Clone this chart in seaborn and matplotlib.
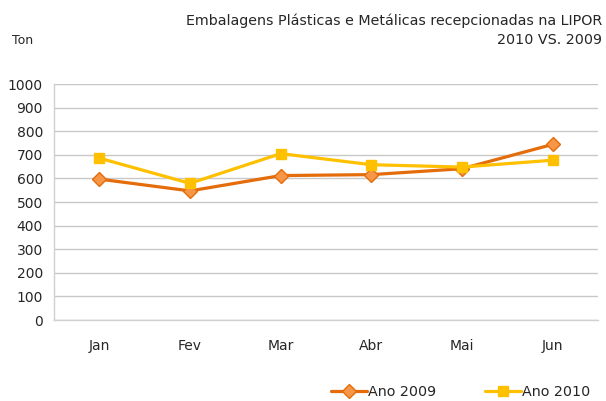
import pandas as pd
import matplotlib.pyplot as plt
import seaborn as sns
from matplotlib.ticker import FixedLocator
from matplotlib.lines import Line2D

# dados
meses = ['Jan', 'Fev', 'Mar', 'Abr', 'Mai', 'Jun']
ano_2009 = [597, 547, 612, 616, 641, 744]
ano_2010 = [686, 579, 705, 658, 648, 677]
series = ['Ano 2009', 'Ano 2010']

df = pd.DataFrame({
    'Mes': meses * 2,
    'x': list(range(len(meses))) * 2,
    'Ton': ano_2009 + ano_2010,
    'Serie': [series[0]] * len(meses) + [series[1]] * len(meses),
})

sns.set_style('white')
plt.rcParams['font.family'] = ['DejaVu Sans']
plt.rcParams['font.size'] = 10

fig = plt.figure(figsize=(6.06, 4.01), dpi=100)
ax = fig.add_axes([54 / 606, 1 - 320 / 401, 544 / 606, 236 / 401])

cores = {'Ano 2009': '#E46C0A', 'Ano 2010': '#FFC000'}
sns.lineplot(data=df, x='x', y='Ton', hue='Serie', style='Serie',
             palette=cores, markers={'Ano 2009': 'D', 'Ano 2010': 's'},
             dashes=False, linewidth=2.3, markersize=7, ax=ax, legend=False)

# ajustar marcadores
for line, cor_face, cor_borda in zip(ax.lines, ['#F79646', '#FFC000'], ['#E46C0A', '#FFC000']):
    line.set_markerfacecolor(cor_face)
    line.set_markeredgecolor(cor_borda)
    line.set_markeredgewidth(1)

ax.set_xlim(-0.5, 5.5)
ax.set_ylim(0, 1000)
ax.set_yticks(range(0, 1001, 100))
ax.set_xticks(range(len(meses)))
ax.set_xticklabels(meses)
ax.xaxis.set_minor_locator(FixedLocator([i + 0.5 for i in range(-1, 6)]))
ax.tick_params(axis='x', which='major', length=0, pad=14)
ax.tick_params(axis='x', which='minor', length=4, color='#D0D0D0', width=1)
ax.tick_params(axis='y', length=4, color='#D0D0D0', width=1, pad=4)
ax.set_xlabel('')
ax.set_ylabel('')

ax.grid(axis='y', color='#C8C8C8', linewidth=1)
ax.set_axisbelow(True)
for lado in ['top', 'right']:
    ax.spines[lado].set_visible(False)
for lado in ['left', 'bottom']:
    ax.spines[lado].set_color('#D0D0D0')
    ax.spines[lado].set_linewidth(1)

fig.text(602 / 606, 1 - 14 / 401, 'Embalagens Plásticas e Metálicas recepcionadas na LIPOR\n2010 VS. 2009',
         ha='right', va='top', fontsize=10.3, linespacing=1.4)
fig.text(12 / 606, 1 - 41 / 401, 'Ton', ha='left', va='center', fontsize=9)

# legenda
handles = [
    Line2D([], [], color='#E46C0A', linewidth=2.3, marker='D', markersize=7,
           markerfacecolor='#F79646', markeredgecolor='#E46C0A'),
    Line2D([], [], color='#FFC000', linewidth=2.3, marker='s', markersize=7,
           markerfacecolor='#FFC000', markeredgecolor='#FFC000'),
]
fig.legend(handles, series, loc='center right', bbox_to_anchor=(596 / 606, 1 - 392 / 401),
           ncol=2, frameon=False, fontsize=10.3, handlelength=2.5, handletextpad=0.1,
           columnspacing=3.4, borderaxespad=0)

fig.savefig('out.png', dpi=100)
